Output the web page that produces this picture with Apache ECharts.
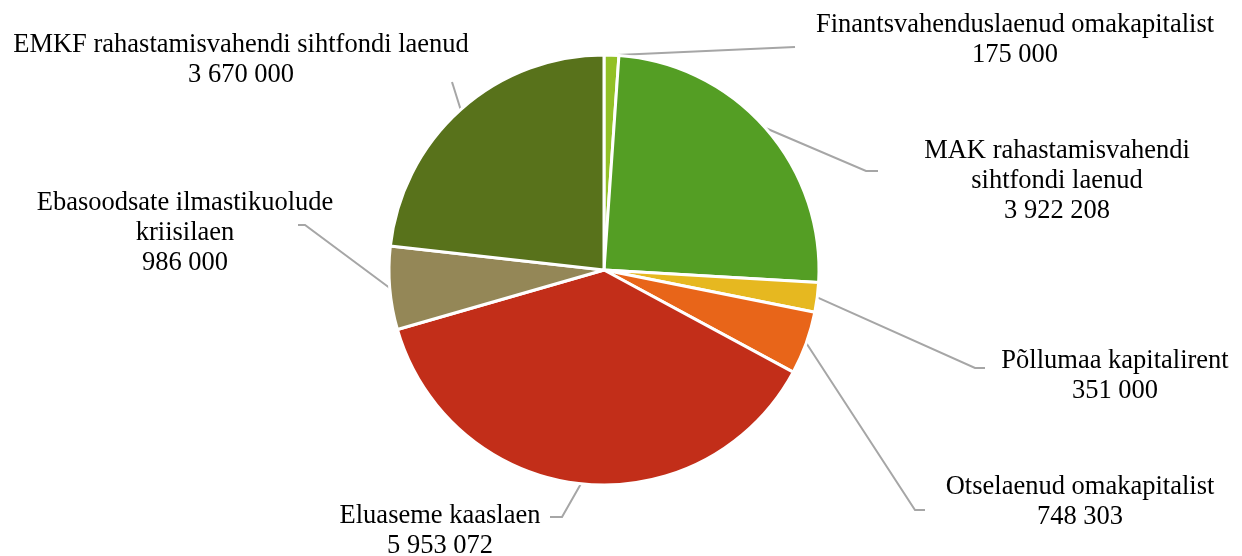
<!DOCTYPE html>
<html><head><meta charset="utf-8">
<script src="https://cdn.jsdelivr.net/npm/echarts@6/dist/echarts.min.js"></script>
<style>html,body{margin:0;padding:0;background:#fff}#c{width:1242px;height:556px}</style>
</head><body><div id="c"></div>
<script>
const categories = [
  'Finantsvahenduslaenud omakapitalist',
  'MAK rahastamisvahendi\nsihtfondi laenud',
  'Põllumaa kapitalirent',
  'Otselaenud omakapitalist',
  'Eluaseme kaaslaen',
  'Ebasoodsate ilmastikuolude\nkriisilaen',
  'EMKF rahastamisvahendi sihtfondi laenud'
];
const values = [175000, 3922208, 351000, 748303, 5953072, 986000, 3670000];
const valueLabels = ['175 000', '3 922 208', '351 000', '748 303', '5 953 072', '986 000', '3 670 000'];
const colors = ['#92c026', '#549e24', '#e6b820', '#e86519', '#c22e19', '#948757', '#58721b'];

// label layout (positions only)
const labelPos = [
  {x: 1015, y: 40, line: [[795, 47], [795, 47]]},
  {x: 1057, y: 181, line: [[866, 171], [878, 171]]},
  {x: 1115, y: 376, line: [[975, 368], [985, 368]]},
  {x: 1080, y: 502, line: [[915, 510], [925, 510]]},
  {x: 440, y: 531, line: [[562, 517], [550, 517]]},
  {x: 185, y: 233, line: [[305, 225], [298, 225]]},
  {x: 241, y: 60, line: [[452, 82], [452, 82]]}
];

const chart = echarts.init(document.getElementById('c'));
chart.setOption({
  animation: false,
  series: [{
    type: 'pie',
    center: [604, 270],
    radius: 215,
    startAngle: 90,
    clockwise: true,
    data: categories.map((n, i) => ({name: n, value: values[i], itemStyle: {color: colors[i]}})),
    itemStyle: {borderColor: '#fff', borderWidth: 3},
    label: {
      show: true,
      formatter: p => p.name + '\n' + valueLabels[p.dataIndex],
      fontFamily: 'Liberation Serif',
      fontSize: 26.5,
      lineHeight: 30,
      color: '#000',
      align: 'center',
      overflow: 'none',
      width: 600
    },
    labelLine: {show: true, lineStyle: {color: '#a6a6a6', width: 2}},
    labelLayout: function (params) {
      const lp = labelPos[params.dataIndex];
      const start = params.labelLinePoints ? params.labelLinePoints[0] : lp.line[0];
      return {
        x: lp.x,
        y: lp.y,
        align: 'center',
        verticalAlign: 'middle',
        labelLinePoints: [start, lp.line[0], lp.line[1]]
      };
    }
  }]
});
</script></body></html>
